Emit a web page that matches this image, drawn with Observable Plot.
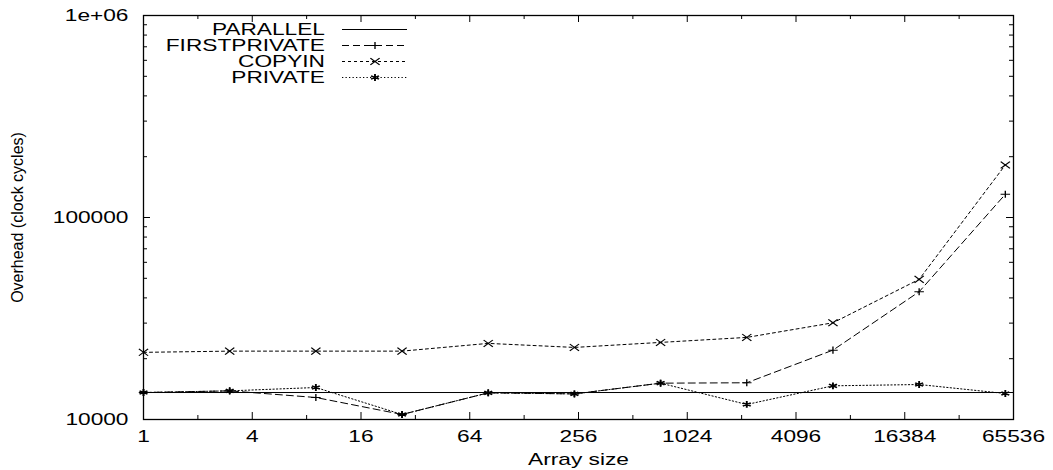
<!DOCTYPE html>
<html><head><meta charset="utf-8">
<script src="https://cdn.jsdelivr.net/npm/d3@7"></script>
<script src="https://cdn.jsdelivr.net/npm/@observablehq/plot@0.6"></script>
<style>body{margin:0;background:#fff}</style>
</head><body><div id="chart"></div>
<script>
// ---- data ----
const arraySizes = [1, 3, 9, 27, 81, 243, 729, 2187, 6561, 19683, 59049];
const parallelOverhead = 13600;
const firstprivate = [13600, 13860, 12850, 10590, 13550, 13390, 15130, 15200, 22050, 42900, 130300];
const copyin = [21500, 21800, 21800, 21800, 23810, 22740, 24080, 25490, 30110, 49400, 182000];
const privateVals = [13600, 13860, 14400, 10590, 13550, 13390, 15130, 11870, 14680, 14900, 13450];
const seriesNames = ["PARALLEL", "FIRSTPRIVATE", "COPYIN", "PRIVATE"];

const xTickValues = [1, 4, 16, 64, 256, 1024, 4096, 16384, 65536];
const xTickLabels = ["1", "4", "16", "64", "256", "1024", "4096", "16384", "65536"];
const xMinorTicks = [2, 8, 32, 128, 512, 2048, 8192, 32768];
const yTickValues = [1e4, 1e5, 1e6];
const yTickLabels = ["10000", "100000", "1e+06"];
const yMinorTicks = [2e4, 3e4, 4e4, 5e4, 6e4, 7e4, 8e4, 9e4, 2e5, 3e5, 4e5, 5e5, 6e5, 7e5, 8e5, 9e5];
const xLabel = "Array size";
const yLabel = "Overhead (clock cycles)";

// ---- layout / style ----
const W = 1053, H = 470, mL = 143, mR = 40, mT = 15, mB = 51;
const fw = W - mL - mR, fh = H - mT - mB;
const SX = 1.42; // horizontal stretch of the reference glyphs
const styles = {
  PARALLEL: {dash: null},
  FIRSTPRIVATE: {dash: "7,4", symbol: "plus", r: 2.4, sw: 1},
  COPYIN: {dash: "3,3", symbol: "times", r: 3.2, sw: 1},
  PRIVATE: {dash: "1.3,2.2", symbol: "asterisk", r: 3.2, sw: 1.4}
};
const rows = (vals) => arraySizes.map((x, i) => ({x, y: vals[i]}));
const seriesData = {FIRSTPRIVATE: rows(firstprivate), COPYIN: rows(copyin), PRIVATE: rows(privateVals)};

const marks = [
  Plot.ruleX(xTickValues, {insetTop: fh - 7, stroke: "#000"}),
  Plot.ruleX(xTickValues, {insetBottom: fh - 7, stroke: "#000"}),
  Plot.ruleX(xMinorTicks, {insetTop: fh - 4, stroke: "#000"}),
  Plot.ruleX(xMinorTicks, {insetBottom: fh - 4, stroke: "#000"}),
  Plot.ruleY(yTickValues, {insetRight: fw - 7, stroke: "#000"}),
  Plot.ruleY(yTickValues, {insetLeft: fw - 7, stroke: "#000"}),
  Plot.ruleY(yMinorTicks, {insetRight: fw - 4, stroke: "#000"}),
  Plot.ruleY(yMinorTicks, {insetLeft: fw - 4, stroke: "#000"}),
  Plot.axisX(xTickValues, {tickFormat: d => xTickLabels[xTickValues.indexOf(d)], tickSize: 0, tickPadding: 11, label: null}),
  Plot.axisY(yTickValues, {tickFormat: d => yTickLabels[yTickValues.indexOf(d)], tickSize: 0, tickPadding: 15, label: null}),
  Plot.text([xLabel], {text: d => d, frameAnchor: "bottom", dy: 40, lineAnchor: "middle"}),
  Plot.text([yLabel], {text: d => d, frameAnchor: "left", dx: -126, rotate: -90, lineAnchor: "middle", textAnchor: "middle"}),
  Plot.ruleY([parallelOverhead], {stroke: "#000", strokeWidth: 1})
];
for (const name of ["FIRSTPRIVATE", "COPYIN", "PRIVATE"]) {
  const s = styles[name];
  marks.push(Plot.line(seriesData[name], {x: "x", y: "y", stroke: "#000", strokeWidth: 1, strokeDasharray: s.dash}));
  marks.push(Plot.dot(seriesData[name], {x: "x", y: "y", symbol: s.symbol, r: s.r, stroke: "#000", strokeWidth: s.sw, fill: "none"}));
}
marks.push(Plot.frame({stroke: "#000", strokeWidth: 1.3}));

const svg = Plot.plot({
  width: W, height: H,
  marginLeft: mL, marginRight: mR, marginTop: mT, marginBottom: mB,
  style: {fontFamily: "'Liberation Sans', Arial, sans-serif", fontSize: "16px", background: "#fff", color: "#000"},
  x: {type: "log", base: 2, domain: [1, 65536]},
  y: {type: "log", domain: [1e4, 1e6]},
  marks
});

// ---- legend (inside the frame, top-left) ----
const sel = d3.select(svg);
const leg = sel.append("g").attr("font-family", "'Liberation Sans', Arial, sans-serif").attr("font-size", 16);
const symMap = {plus: d3.symbolPlus, times: d3.symbolTimes, asterisk: d3.symbolAsterisk};
seriesNames.forEach((name, i) => {
  const cy = 29.5 + 16 * i;
  const s = styles[name];
  leg.append("text").attr("text-anchor", "end").attr("x", 325).attr("y", cy + 5.7).text(name);
  leg.append("line").attr("x1", 342).attr("x2", 407).attr("y1", cy).attr("y2", cy)
    .attr("stroke", "#000").attr("stroke-width", 1).attr("stroke-dasharray", s.dash);
  if (s.symbol) {
    leg.append("path").attr("d", d3.symbol(symMap[s.symbol], Math.PI * s.r * s.r)())
      .attr("transform", `translate(375,${cy})`).attr("fill", "none").attr("stroke", "#000")
      .attr("stroke-width", s.sw);
  }
});

// ---- stretch text and markers horizontally like the reference ----
sel.selectAll("text").each(function () {
  const t = this.getAttribute("transform") || "";
  if (t.includes("rotate")) return;
  const xa = this.getAttribute("x");
  let x = 0;
  if (xa !== null && !isNaN(+xa)) { x = +xa; this.removeAttribute("x"); }
  this.setAttribute("transform", `${t} translate(${x},0) scale(${SX},1)`);
});
sel.selectAll('g[aria-label="dot"] path').each(function () {
  const t = this.getAttribute("transform") || "";
  this.setAttribute("transform", `${t} scale(1.35,1)`);
});
leg.selectAll("path").each(function () {
  const t = this.getAttribute("transform") || "";
  this.setAttribute("transform", `${t} scale(1.35,1)`);
});

document.getElementById("chart").appendChild(svg);
</script>
</body></html>
